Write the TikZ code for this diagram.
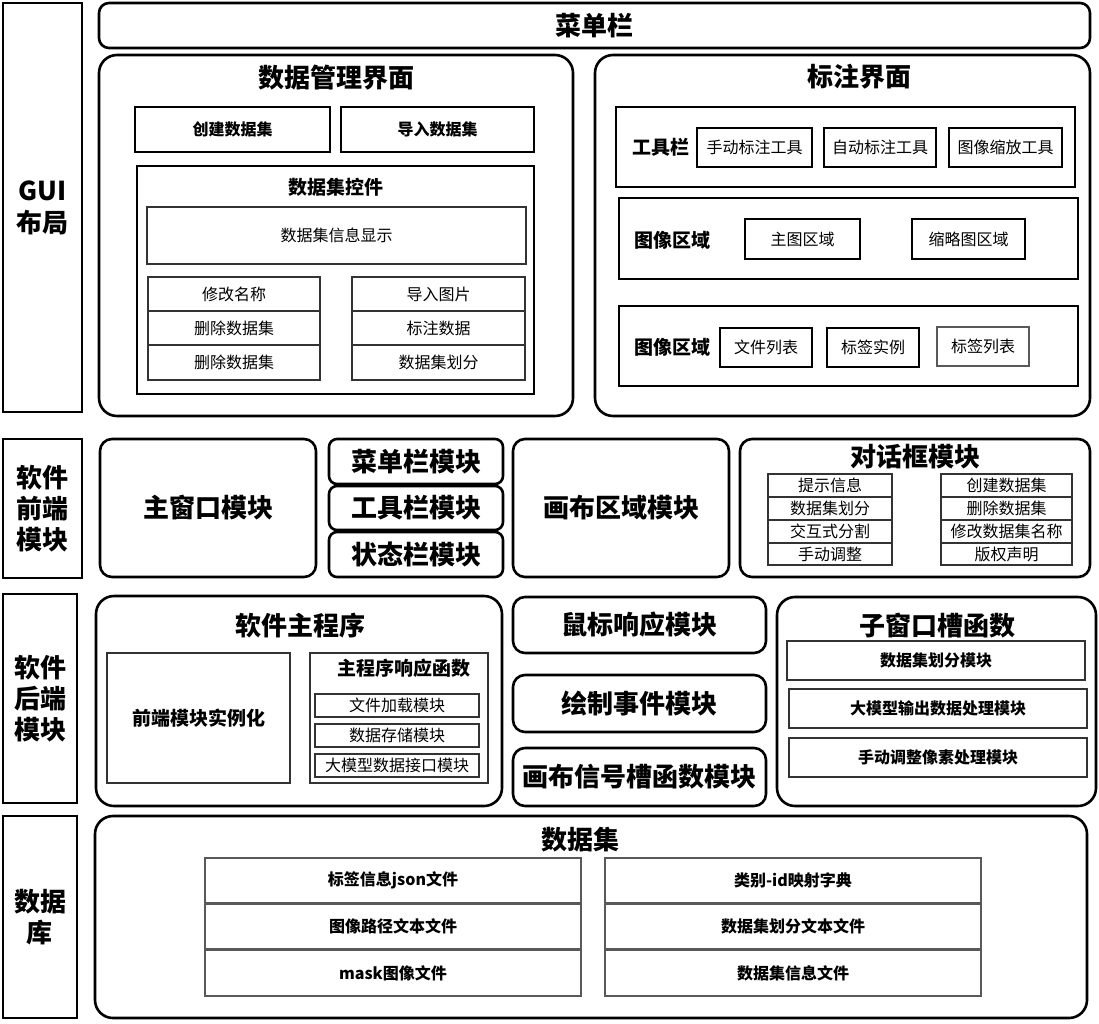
\documentclass[tikz,border=0pt]{standalone}
\usepackage{fontspec}
\setmainfont{Noto Sans CJK SC}
\tikzset{
 base/.style={inner sep=0pt, outer sep=0pt, align=center},
 frame/.style={base, draw, line width=2.6pt},
 rframe/.style={frame, rounded corners=18pt},
 rmid/.style={frame, rounded corners=12pt},
 rs/.style={frame, rounded corners=8pt},
 mid/.style={base, draw, line width=1.8pt},
 btn/.style={base, draw, line width=1.5pt},
 thin/.style={base, draw=black!80, line width=1.1pt},
 gbox/.style={base, draw=black!65, line width=1.5pt},
 big/.style={font=\bfseries\fontsize{26}{31}\selectfont},
 med/.style={font=\bfseries\fontsize{19}{22}\selectfont},
 sb/.style={font=\bfseries\fontsize{16}{19}\selectfont},
 sr/.style={font=\fontsize{16}{19}\selectfont},
 lbl/.style={base, big},
}
\newcommand\bx[7]{\node[#1, minimum width={(#4-#2)*1pt}, minimum height={(#5-#3)*1pt}] (#6) at ({(#2+#4)/2},{(#3+#5)/2}) {#7};}
\begin{document}
\begin{tikzpicture}[x=1pt,y=-1pt]
\useasboundingbox[fill=white] (0,0) rectangle (1099,1023);
% ---------- Row 1 : GUI layout
\bx{frame,big}{3}{3}{82}{412}{gui}{GUI\\[1pt]布局}
\bx{frame,big,rounded corners=10pt}{99}{3}{1090}{48}{menubar}{菜单栏}
\bx{rframe}{99}{55}{573}{416}{dm}{}
\node[lbl] (dmt) at (336,78) {数据管理界面};
\bx{mid,sb}{135}{107}{330}{152}{cj}{创建数据集}
\bx{mid,sb}{341}{107}{534}{152}{dr}{导入数据集}
\bx{mid}{137}{166}{534}{394}{kj}{}
\node[base,med] (kjt) at (336,187) {数据集控件};
\bx{thin,sr}{147}{207}{526}{264}{xx}{数据集信息显示}
\bx{thin,sr}{148}{277}{320}{311}{l1}{修改名称}
\bx{thin,sr}{148}{311}{320}{345}{l2}{删除数据集}
\bx{thin,sr}{148}{345}{320}{380}{l3}{删除数据集}
\bx{thin,sr}{352}{277}{525}{311}{r1}{导入图片}
\bx{thin,sr}{352}{311}{525}{345}{r2}{标注数据}
\bx{thin,sr}{352}{345}{525}{380}{r3}{数据集划分}
\bx{rframe}{595}{55}{1090}{416}{bz}{}
\node[lbl] (bzt) at (859,77) {标注界面};
\bx{mid}{616}{107}{1075}{187}{gjl}{}
\node[base,med] (gjlt) at (661,147) {工具栏};
\bx{btn,sr}{697}{128}{812}{167}{t1}{手动标注工具}
\bx{btn,sr}{824}{128}{936}{167}{t2}{自动标注工具}
\bx{btn,sr}{949}{128}{1062}{167}{t3}{图像缩放工具}
\bx{mid}{619}{198}{1078}{279}{tx1}{}
\node[base,med] (tx1t) at (672,240) {图像区域};
\bx{btn,sr}{745}{219}{860}{259}{zt}{主图区域}
\bx{btn,sr}{912}{219}{1025}{259}{slt}{缩略图区域}
\bx{mid}{619}{306}{1078}{386}{tx2}{}
\node[base,med] (tx2t) at (672,347) {图像区域};
\bx{btn,sr}{720}{328}{812}{367}{wj}{文件列表}
\bx{btn,sr}{827}{328}{919}{367}{bq}{标签实例}
\bx{gbox,sr}{937}{327}{1029}{366}{bl}{标签列表}
% ---------- Row 2 : front end
\bx{frame,big}{3}{439}{82}{578}{qd}{软件\\前端\\模块}
\bx{rmid,big}{100}{439}{316}{577}{zck}{主窗口模块}
\bx{rs,big}{329}{439}{503}{484}{cdl}{菜单栏模块}
\bx{rs,big}{329}{486}{503}{530}{gjm}{工具栏模块}
\bx{rs,big}{329}{532}{503}{577}{ztl}{状态栏模块}
\bx{rmid,big}{513}{439}{729}{577}{hb}{画布区域模块}
\bx{rmid}{740}{439}{1090}{577}{dhk}{}
\node[lbl] (dhkt) at (915,457) {对话框模块};
\bx{thin,sr}{768}{474}{892}{497}{a1}{提示信息}
\bx{thin,sr}{768}{497}{892}{520}{a2}{数据集划分}
\bx{thin,sr}{768}{520}{892}{543}{a3}{交互式分割}
\bx{thin,sr}{768}{543}{892}{565}{a4}{手动调整}
\bx{thin,sr}{941}{474}{1072}{497}{b1}{创建数据集}
\bx{thin,sr}{941}{497}{1072}{520}{b2}{删除数据集}
\bx{thin,sr}{941}{520}{1072}{543}{b3}{修改数据集名称}
\bx{thin,sr}{941}{543}{1072}{565}{b4}{版权声明}
% ---------- Row 3 : back end
\bx{frame,big}{3}{594}{77}{803}{hd}{软件\\后端\\模块}
\bx{rframe}{96}{596}{502}{806}{zcx}{}
\node[lbl] (zcxt) at (300,626) {软件主程序};
\bx{thin,med}{107}{653}{290}{783}{sl}{前端模块实例化}
\bx{thin}{310}{653}{488}{783}{xy}{}
\node[base,med] (xyt) at (404,668) {主程序响应函数};
\bx{thin,sr}{315}{694}{479}{717}{m1}{文件加载模块}
\bx{thin,sr}{315}{724}{479}{747}{m2}{数据存储模块}
\bx{thin,sr}{315}{754}{479}{777}{m3}{大模型数据接口模块}
\bx{rmid,big}{513}{597}{766}{653}{sbm}{鼠标响应模块}
\bx{rmid,big}{513}{675}{766}{732}{hzm}{绘制事件模块}
\bx{rmid,big}{513}{748}{766}{806}{hbx}{画布信号槽函数模块}
\bx{rframe}{777}{597}{1096}{806}{zch}{}
\node[lbl] (zcht) at (937,626) {子窗口槽函数};
\bx{thin,sb}{787}{641}{1085}{680}{s1}{数据集划分模块}
\bx{thin,sb}{789}{689}{1087}{728}{s2}{大模型输出数据处理模块}
\bx{thin,sb}{789}{738}{1087}{777}{s3}{手动调整像素处理模块}
% ---------- Row 4 : database
\bx{frame,big}{3}{816}{77}{1018}{db}{数据\\库}
\bx{rframe}{95}{816}{1087}{1018}{ds}{}
\node[lbl] (dst) at (580,840) {数据集};
\bx{gbox,sb}{205}{858}{581}{903}{d1}{标签信息json文件}
\bx{gbox,sb}{205}{904}{581}{949}{d2}{图像路径文本文件}
\bx{gbox,sb}{205}{950}{581}{996}{d3}{mask图像文件}
\bx{gbox,sb}{605}{858}{981}{903}{e1}{类别-id映射字典}
\bx{gbox,sb}{605}{904}{981}{949}{e2}{数据集划分文本文件}
\bx{gbox,sb}{605}{950}{981}{996}{e3}{数据集信息文件}
\end{tikzpicture}
\end{document}
